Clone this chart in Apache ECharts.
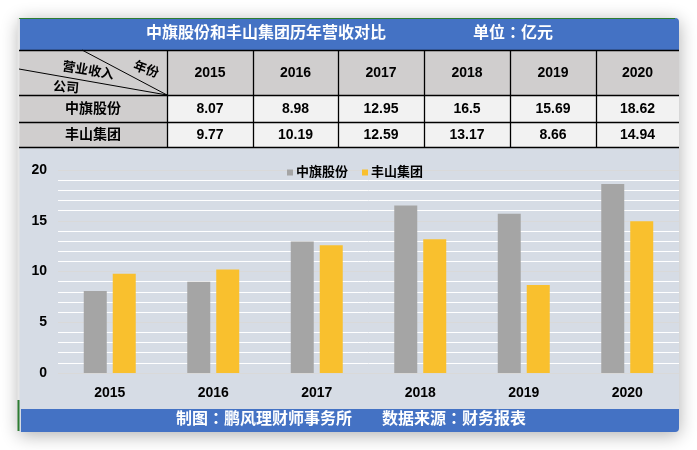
<!DOCTYPE html>
<html><head><meta charset="utf-8">
<script src="https://cdn.jsdelivr.net/npm/echarts@6/dist/echarts.min.js"></script>
<style>html,body{margin:0;padding:0;background:#fff;}#c{width:697px;height:450px;}</style>
</head><body><div id="c"></div>
<script>
var years = ['2015','2016','2017','2018','2019','2020'];
var companyA = '中旗股份';
var companyB = '丰山集团';
var valuesA = [8.07, 8.98, 12.95, 16.5, 15.69, 18.62];
var valuesB = [9.77, 10.19, 12.59, 13.17, 8.66, 14.94];
var titleText = '中旗股份和丰山集团历年营收对比';
var unitText = '单位：亿元';
var footLeft = '制图：鹏风理财师事务所';
var footRight = '数据来源：财务报表';
var yTicks = [0, 5, 10, 15, 20];

var FF = "'Liberation Sans','Noto Sans CJK SC',sans-serif";
var FT = "'Liberation Sans','Noto Sans CJK TC',sans-serif";
var chart = echarts.init(document.getElementById('c'));

var L = 19, R = 679, T = 18, B = 432;
var colX = [19, 167, 253, 338, 424, 510, 596, 679];
var rowY = [50, 95, 122, 147];
var g = [];
// card with shadow
g.push({type:'rect', z:-20, shape:{x:L,y:T,width:R-L,height:B-T,r:[0,4,4,0]}, style:{fill:'#D6DCE5', shadowBlur:18, shadowColor:'rgba(0,0,0,0.32)', shadowOffsetY:3}});
g.push({type:'line', z:-9, shape:{x1:L-0.5,y1:T,x2:L-0.5,y2:400}, style:{stroke:'#E6E6E6',lineWidth:2}});
// title bar
g.push({type:'rect', z:-10, shape:{x:L+1,y:T,width:R-L-1,height:rowY[0]-T,r:[0,4,0,0]}, style:{fill:'#4472C4'}});
g.push({type:'line', z:-9, shape:{x1:L,y1:T+0.5,x2:R-4,y2:T+0.5}, style:{stroke:'#2E7D32',lineWidth:1}});
g.push({type:'line', z:-9, shape:{x1:L-0.5,y1:400,x2:L-0.5,y2:B-1}, style:{stroke:'#2E7D32',lineWidth:2}});
g.push({type:'text', z:5, style:{text:titleText, x:266, y:34, align:'center', verticalAlign:'middle', fill:'#fff', font:'bold 16px '+FT}});
g.push({type:'text', z:5, style:{text:unitText, x:513, y:34, align:'center', verticalAlign:'middle', fill:'#fff', font:'bold 16px '+FT}});
// table backgrounds
g.push({type:'rect', z:-10, shape:{x:L,y:rowY[0],width:R-L,height:rowY[1]-rowY[0]}, style:{fill:'#D0CECE'}});
g.push({type:'rect', z:-10, shape:{x:L,y:rowY[1],width:colX[1]-L,height:rowY[3]-rowY[1]}, style:{fill:'#D0CECE'}});
g.push({type:'rect', z:-10, shape:{x:colX[1],y:rowY[1],width:R-colX[1],height:rowY[3]-rowY[1]}, style:{fill:'#F2F2F2'}});
// table lines
for (var i=0;i<rowY.length;i++){
  var yy = rowY[i]+0.5;
  g.push({type:'line', z:-5, shape:{x1:L,y1:yy,x2:R,y2:yy}, style:{stroke:'#000',lineWidth:1.3}});
}
for (var j=1;j<colX.length-1;j++){
  var xx = colX[j]+0.5;
  g.push({type:'line', z:-5, shape:{x1:xx,y1:rowY[0],x2:xx,y2:rowY[3]}, style:{stroke:'#000',lineWidth:1.3}});
}
// diagonal header
g.push({type:'line', z:-5, shape:{x1:82,y1:rowY[0],x2:colX[1],y2:rowY[1]}, style:{stroke:'#000',lineWidth:1}});
g.push({type:'line', z:-5, shape:{x1:L,y1:69,x2:colX[1],y2:rowY[1]}, style:{stroke:'#000',lineWidth:1}});
g.push({type:'text', z:5, x:88, y:71, rotation:-0.17, style:{text:'营业收入', x:0, y:0, align:'center', verticalAlign:'middle', fill:'#000', font:'bold 13px '+FF}});
g.push({type:'text', z:5, x:146, y:70, rotation:-0.35, style:{text:'年份', x:0, y:0, align:'center', verticalAlign:'middle', fill:'#000', font:'bold 13px '+FF}});
g.push({type:'text', z:5, x:66, y:88, rotation:-0.08, style:{text:'公司', x:0, y:0, align:'center', verticalAlign:'middle', fill:'#000', font:'bold 13px '+FF}});
// table cells
var rowNames = [companyA, companyB];
var rowVals = [valuesA, valuesB];
for (var k=0;k<years.length;k++){
  var cx = (colX[k+1]+colX[k+2])/2;
  g.push({type:'text', z:5, style:{text:years[k], x:cx, y:(rowY[0]+rowY[1])/2+1, align:'center', verticalAlign:'middle', fill:'#000', font:'bold 14px '+FF}});
  for (var r=0;r<2;r++){
    g.push({type:'text', z:5, style:{text:String(rowVals[r][k]), x:cx, y:(rowY[r+1]+rowY[r+2])/2+1, align:'center', verticalAlign:'middle', fill:'#000', font:'bold 14px '+FF}});
  }
}
for (var r2=0;r2<2;r2++){
  g.push({type:'text', z:5, style:{text:rowNames[r2], x:(L+colX[1])/2, y:(rowY[r2+1]+rowY[r2+2])/2+1, align:'center', verticalAlign:'middle', fill:'#000', font:'bold 14px '+FF}});
}
// footer
g.push({type:'rect', z:-10, shape:{x:L+2,y:409,width:R-L-2,height:B-409,r:[0,0,4,0]}, style:{fill:'#4472C4'}});
g.push({type:'text', z:5, style:{text:footLeft, x:176, y:420, align:'left', verticalAlign:'middle', fill:'#fff', font:'bold 16px '+FT}});
g.push({type:'text', z:5, style:{text:footRight, x:382, y:420, align:'left', verticalAlign:'middle', fill:'#fff', font:'bold 16px '+FT}});

chart.setOption({
  animation:false,
  textStyle:{fontFamily:FF},
  graphic: g,
  legend:{
    data:[companyA, companyB], top:161, left:282, itemWidth:6, itemHeight:6, itemGap:14,
    icon:'rect', textStyle:{fontSize:13, fontWeight:'bold', color:'#000', fontFamily:FF, padding:[0,0,0,-2]}
  },
  grid:{left:58, right:18, top:170, bottom:77, containLabel:false},
  xAxis:{
    type:'category', data:years,
    axisLine:{show:false}, axisTick:{show:false},
    axisLabel:{color:'#000', fontWeight:'bold', fontSize:14, margin:13, fontFamily:FF}
  },
  yAxis:{
    type:'value', min:yTicks[0], max:yTicks[yTicks.length-1], interval:5,
    axisLine:{show:false}, axisTick:{show:false},
    axisLabel:{color:'#000', fontWeight:'bold', fontSize:14, margin:11, fontFamily:FF},
    splitLine:{lineStyle:{color:'#D9D9D9', width:1}},
    minorTick:{show:false, splitNumber:5},
    minorSplitLine:{show:true, lineStyle:{color:'#FFFFFF', width:1}}
  },
  series:[
    {name:companyA, type:'bar', data:valuesA, barWidth:23, barGap:'26%', itemStyle:{color:'#A5A5A5'}},
    {name:companyB, type:'bar', data:valuesB, barWidth:23, itemStyle:{color:'#F9C02E'}}
  ]
});
</script></body></html>
